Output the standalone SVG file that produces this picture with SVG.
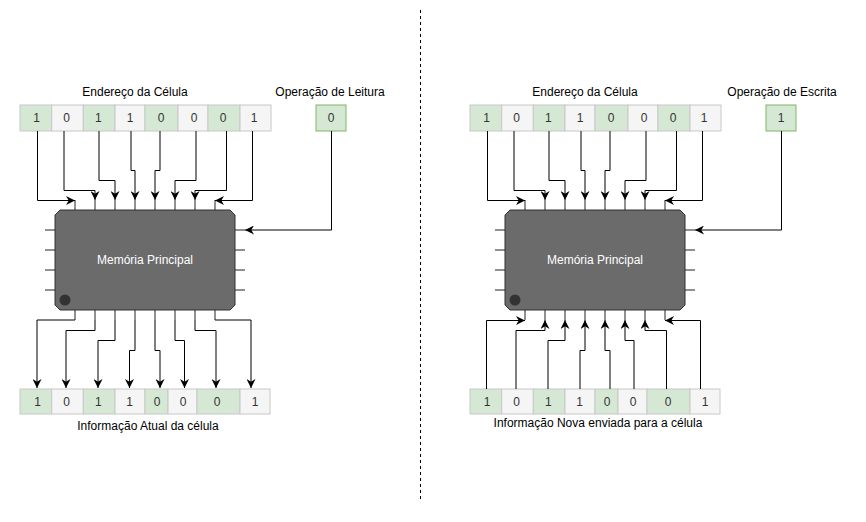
<svg xmlns="http://www.w3.org/2000/svg" width="866" height="522" viewBox="0 0 866 522">
<defs>
<style>
text{font-family:"Liberation Sans",Arial,Helvetica,sans-serif;font-size:12px;fill:#000;}
.lbl{text-anchor:middle;}
.bit{text-anchor:middle;font-size:12px;fill:#333;}
.g{fill:#d5e8d4;stroke:#c8c8c8;stroke-width:1;}
.w{fill:#f5f5f5;stroke:#c8c8c8;stroke-width:1;}
.op{fill:#d5e8d4;stroke:#82b366;stroke-width:1;}
.chip{fill:#6b6b6b;stroke:#333;stroke-width:1;}
.pin{stroke:#222;stroke-width:1;fill:none;}
.conn path{fill:none;stroke:#000;stroke-width:1;marker-end:url(#arr);}
.chiptxt{fill:#fff;text-anchor:middle;}
</style>
<marker id="arr" viewBox="0 0 10 10" refX="10" refY="5" markerWidth="9" markerHeight="9" markerUnits="userSpaceOnUse" orient="auto">
<path d="M0,0 L10,5 L0,10 L3,5 z" fill="#000"/>
</marker>
<g id="chipShape">
<polygon class="chip" points="60,210 230,210 235,215 235,305 230,310 60,310 55,305 55,215"/>
<circle cx="65" cy="300" r="5.5" fill="#333"/>
<path class="pin" d="M75,200V210M95,200V210M115,200V210M135,200V210M155,200V210M175,200V210M195,200V210M215,200V210M75,310V320M95,310V320M115,310V320M135,310V320M155,310V320M175,310V320M195,310V320M215,310V320M45,230H55M45,250H55M45,270H55M45,290H55M235,230H245M235,250H245M235,270H245M235,290H245"/>
<text class="chiptxt" x="145" y="264">Memória Principal</text>
</g>
</defs>

<line x1="420.5" y1="10" x2="420.5" y2="500" stroke="#000" stroke-width="1" stroke-dasharray="3,3"/>

<!-- LEFT -->
<g id="left-address">
<text class="lbl" x="135" y="96">Endereço da Célula</text>
<rect class="g" x="20" y="105" width="31.7" height="26"/>
<rect class="w" x="51.7" y="105" width="31.6" height="26"/>
<rect class="g" x="83.3" y="105" width="31.7" height="26"/>
<rect class="w" x="115" y="105" width="30" height="26"/>
<rect class="g" x="145" y="105" width="33" height="26"/>
<rect class="w" x="178" y="105" width="30" height="26"/>
<rect class="g" x="208" y="105" width="32" height="26"/>
<rect class="w" x="240" y="105" width="31" height="26"/>
<text class="bit" x="36.7" y="122">1</text>
<text class="bit" x="66.7" y="122">0</text>
<text class="bit" x="98.3" y="122">1</text>
<text class="bit" x="130" y="122">1</text>
<text class="bit" x="161" y="122">0</text>
<text class="bit" x="194" y="122">0</text>
<text class="bit" x="223" y="122">0</text>
<text class="bit" x="254" y="122">1</text>
</g>
<g id="left-op">
<text class="lbl" x="330" y="96">Operação de Leitura</text>
<rect class="op" x="316" y="105" width="30" height="26"/>
<text class="bit" x="331" y="122">0</text>
</g>
<g id="left-chip"><use href="#chipShape"/></g>
<g id="left-data">
<rect class="g" x="20" y="389" width="31.7" height="25"/>
<rect class="w" x="51.7" y="389" width="31.6" height="25"/>
<rect class="g" x="83.3" y="389" width="31.7" height="25"/>
<rect class="w" x="115" y="389" width="30" height="25"/>
<rect class="g" x="145" y="389" width="23" height="25"/>
<rect class="w" x="168" y="389" width="29" height="25"/>
<rect class="g" x="197" y="389" width="43" height="25"/>
<rect class="w" x="240" y="389" width="30" height="25"/>
<text class="bit" x="37.5" y="406">1</text>
<text class="bit" x="66.7" y="406">0</text>
<text class="bit" x="98.3" y="406">1</text>
<text class="bit" x="129.5" y="406">1</text>
<text class="bit" x="157" y="406">0</text>
<text class="bit" x="183" y="406">0</text>
<text class="bit" x="217" y="406">0</text>
<text class="bit" x="255" y="406">1</text>
<text class="lbl" x="148" y="430">Informação Atual da célula</text>
</g>

<!-- RIGHT -->
<g id="right-address">
<text class="lbl" x="585" y="96">Endereço da Célula</text>
<rect class="g" x="470" y="105" width="31.7" height="26"/>
<rect class="w" x="501.7" y="105" width="31.6" height="26"/>
<rect class="g" x="533.3" y="105" width="31.7" height="26"/>
<rect class="w" x="565" y="105" width="30" height="26"/>
<rect class="g" x="595" y="105" width="33" height="26"/>
<rect class="w" x="628" y="105" width="30" height="26"/>
<rect class="g" x="658" y="105" width="32" height="26"/>
<rect class="w" x="690" y="105" width="31" height="26"/>
<text class="bit" x="486.7" y="122">1</text>
<text class="bit" x="516.7" y="122">0</text>
<text class="bit" x="548.3" y="122">1</text>
<text class="bit" x="580" y="122">1</text>
<text class="bit" x="611" y="122">0</text>
<text class="bit" x="644" y="122">0</text>
<text class="bit" x="673" y="122">0</text>
<text class="bit" x="704" y="122">1</text>
</g>
<g id="right-op">
<text class="lbl" x="782" y="96">Operação de Escrita</text>
<rect class="op" x="766" y="105" width="30" height="26"/>
<text class="bit" x="781" y="122">1</text>
</g>
<g id="right-chip"><use href="#chipShape" x="450"/></g>
<g id="right-data">
<rect class="g" x="470" y="389" width="31.7" height="25"/>
<rect class="w" x="501.7" y="389" width="31.6" height="25"/>
<rect class="g" x="533.3" y="389" width="31.7" height="25"/>
<rect class="w" x="565" y="389" width="30" height="25"/>
<rect class="g" x="595" y="389" width="23" height="25"/>
<rect class="w" x="618" y="389" width="29" height="25"/>
<rect class="g" x="647" y="389" width="43" height="25"/>
<rect class="w" x="690" y="389" width="30" height="25"/>
<text class="bit" x="487" y="406">1</text>
<text class="bit" x="516.7" y="406">0</text>
<text class="bit" x="548.3" y="406">1</text>
<text class="bit" x="579.5" y="406">1</text>
<text class="bit" x="607" y="406">0</text>
<text class="bit" x="633" y="406">0</text>
<text class="bit" x="668" y="406">0</text>
<text class="bit" x="705" y="406">1</text>
<text class="lbl" x="598" y="427">Informação Nova enviada para a célula</text>
</g>

<g id="connectors" class="conn">
<path d="M37.5,131V200.5H75"/>
<path d="M64,131V190.5H95V200"/>
<path d="M99,131V180.5H115V200"/>
<path d="M131,131V170.5H135V200"/>
<path d="M160,131V170.5H155V200"/>
<path d="M196,131V180.5H175V200"/>
<path d="M226.5,131V190.5H195V200"/>
<path d="M252.5,131V200.5H215"/>
<path d="M331.5,131V230H245"/>
<path d="M75,320H37V388"/>
<path d="M95,320V330.5H66V388"/>
<path d="M115,320V340.5H98V388"/>
<path d="M135,320V350.5H129.5V388"/>
<path d="M155,320V350.5H160V388"/>
<path d="M175,320V340.5H184.5V388"/>
<path d="M195,320V330.5H216V388"/>
<path d="M215,320H251V388"/>

<path d="M487.5,131V200.5H525"/>
<path d="M514,131V190.5H545V200"/>
<path d="M549,131V180.5H565V200"/>
<path d="M581,131V170.5H585V200"/>
<path d="M610,131V170.5H605V200"/>
<path d="M646,131V180.5H625V200"/>
<path d="M676.5,131V190.5H645V200"/>
<path d="M702.5,131V200.5H665"/>
<path d="M781.5,131V230H695"/>
<path d="M486.5,389V320.5H525"/>
<path d="M516,389V330.5H545V320"/>
<path d="M548,389V340.5H565V320"/>
<path d="M580,389V350.5H585V320"/>
<path d="M610,389V350.5H605V320"/>
<path d="M634,389V340.5H625V320"/>
<path d="M666.5,389V330.5H645V320"/>
<path d="M700.5,389V320.5H665"/>
</g>
</svg>
